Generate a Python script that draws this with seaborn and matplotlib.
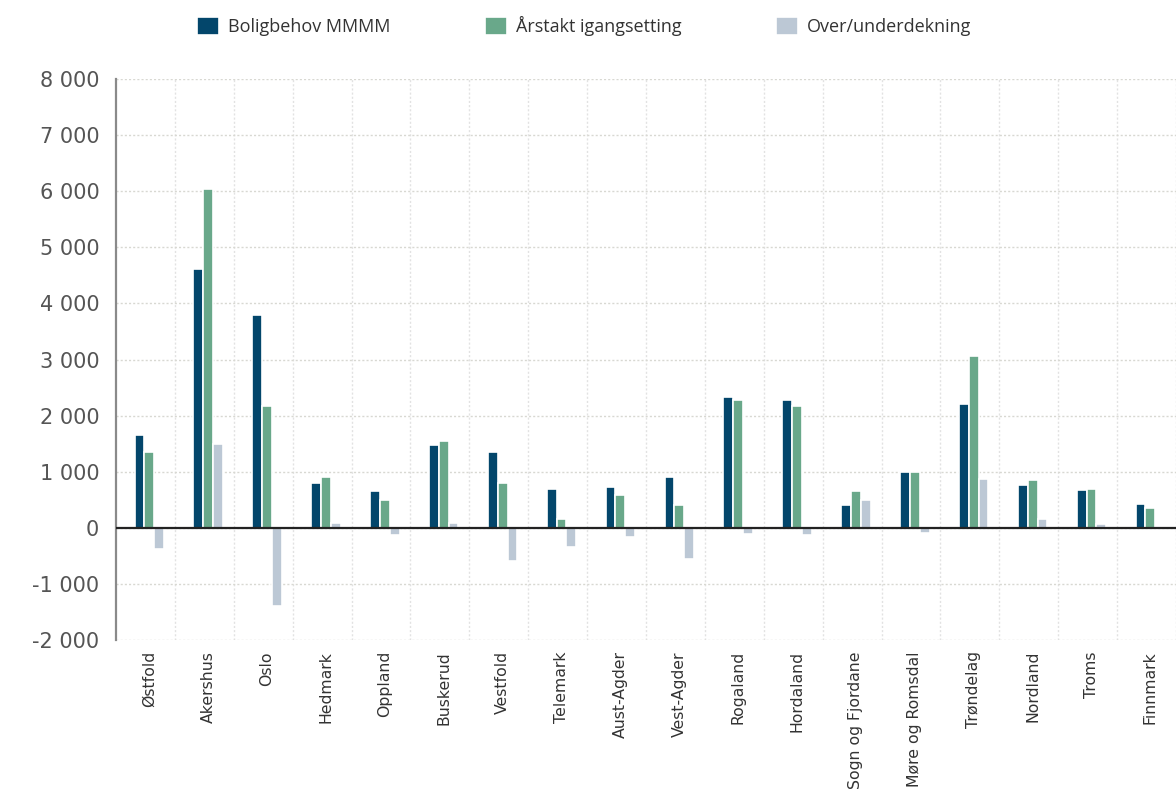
import matplotlib
matplotlib.use("Agg")
import matplotlib.pyplot as plt
from matplotlib.ticker import FuncFormatter, FixedLocator
import seaborn as sns
import pandas as pd

categories = ["Østfold", "Akershus", "Oslo", "Hedmark", "Oppland", "Buskerud",
              "Vestfold", "Telemark", "Aust-Agder", "Vest-Agder", "Rogaland",
              "Hordaland", "Sogn og Fjordane", "Møre og Romsdal", "Trøndelag",
              "Nordland", "Troms", "Finnmark"]
boligbehov = [1660, 4620, 3800, 800, 650, 1470, 1360, 700, 720, 910, 2340,
              2270, 410, 1000, 2210, 770, 680, 420]
arstakt = [1360, 6040, 2180, 910, 500, 1540, 790, 150, 580, 400, 2270,
           2180, 660, 1000, 3070, 860, 700, 360]
over_under = [-370, 1500, -1390, 90, -120, 90, -600, -350, -160, -550, -110,
              -120, 500, -90, 870, 160, 70, 0]
series_names = ["Boligbehov MMMM", "Årstakt igangsetting", "Over/underdekning"]
colors = ["#03466b", "#69a88a", "#bcc8d5"]
yticks = [-2000, -1000, 0, 1000, 2000, 3000, 4000, 5000, 6000, 7000, 8000]

rows = []
for name, vals in zip(series_names, [boligbehov, arstakt, over_under]):
    for c, v in zip(categories, vals):
        rows.append({"Fylke": c, "Serie": name, "Verdi": v})
df = pd.DataFrame(rows)

sns.set_style("white")
plt.rcParams["font.family"] = ["DejaVu Sans"]

fig = plt.figure(figsize=(11.76, 7.95), dpi=100)
ax = fig.add_axes([116/1176, 1 - 640/795, 1 - 116/1176, (640 - 79)/795])

sns.barplot(data=df, x="Fylke", y="Verdi", hue="Serie", order=categories,
            hue_order=series_names, palette=colors, width=0.5, ax=ax,
            saturation=1, edgecolor="white", linewidth=1.2, errorbar=None,
            legend=True, zorder=3)

shift = 0.065
ax.set_xlim(-0.5 - shift, len(categories) - 0.5 - shift)
ax.set_ylim(-2000, 8000)
ax.set_yticks(yticks)

def fmt(v, pos):
    v = int(round(v))
    s = f"{abs(v):,}".replace(",", " ")
    return ("-" if v < 0 else "") + s
ax.yaxis.set_major_formatter(FuncFormatter(fmt))

ax.xaxis.set_minor_locator(FixedLocator([i + 0.5 - shift for i in range(len(categories))]))
ax.grid(axis="y", which="major", color="#d8d8d2", linestyle=(0, (1.5, 1.5)), linewidth=1, zorder=0)
ax.grid(axis="x", which="minor", color="#e2e2e2", linestyle=(0, (1.5, 1.5)), linewidth=1, zorder=0)
ax.grid(axis="x", which="major", visible=False)
ax.axhline(0, color="#222222", linewidth=1.6, zorder=4)

for s in ["top", "right", "bottom"]:
    ax.spines[s].set_visible(False)
ax.spines["left"].set_color("#8a8a8a")
ax.spines["left"].set_linewidth(1.6)

ax.tick_params(axis="y", length=0, labelsize=15, labelcolor="#555555", pad=12)
ax.tick_params(axis="x", which="both", length=0, labelsize=11.3, labelcolor="#333333", pad=8)
plt.setp(ax.get_xticklabels(), rotation=90)
ax.set_xlabel("")
ax.set_ylabel("")

handles, labels = ax.get_legend_handles_labels()
ax.get_legend().remove()
fig.legend(handles, labels, loc="upper left", bbox_to_anchor=(181/1176, 1.0),
           ncol=3, frameon=False, fontsize=13,
           prop={"family": ["Open Sans", "DejaVu Sans"], "size": 13},
           handlelength=1.2, handleheight=1.2,
           handletextpad=0.5, columnspacing=5.25, labelcolor="#333333")

fig.savefig("out.png", dpi=100)
